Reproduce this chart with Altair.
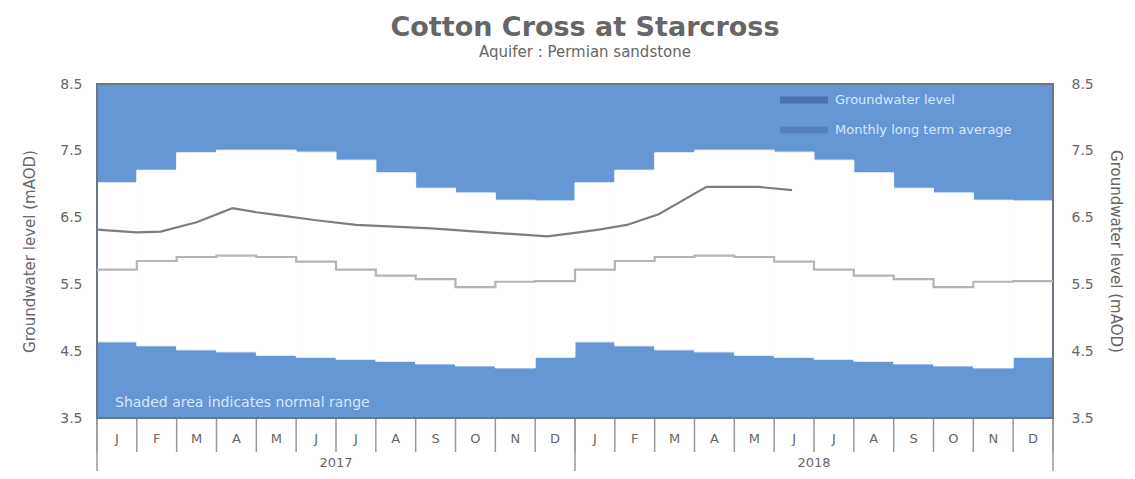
import altair as alt
import pandas as pd

# ---- data ----
months = ["J", "F", "M", "A", "M", "J", "J", "A", "S", "O", "N", "D"]
years = ["2017", "2018"]
# normal range (same each year)
upper = [7.02, 7.21, 7.47, 7.51, 7.51, 7.48, 7.36, 7.17, 6.94, 6.87, 6.76, 6.75]
lower = [4.64, 4.58, 4.52, 4.49, 4.44, 4.41, 4.38, 4.35, 4.31, 4.28, 4.25, 4.41]
# monthly long term average
lta = [5.72, 5.85, 5.91, 5.93, 5.91, 5.84, 5.72, 5.63, 5.58, 5.46, 5.54, 5.55]
# groundwater level (time in months since Jan 2017)
gw_time = [0.0, 1.0, 1.6, 2.5, 3.4, 4.0, 4.5, 5.5, 6.5, 8.4, 9.8, 11.3, 12.0, 12.6, 13.3, 14.1, 15.3, 16.6, 17.45]
gw_level = [6.32, 6.28, 6.29, 6.43, 6.64, 6.58, 6.54, 6.46, 6.39, 6.34, 6.28, 6.22, 6.27, 6.32, 6.39, 6.55, 6.96, 6.96, 6.91]
y_ticks = [3.5, 4.5, 5.5, 6.5, 7.5, 8.5]
legend_labels = ["Groundwater level", "Monthly long term average"]
note_text = "Shaded area indicates normal range"

BLUE = "#6497d4"
FRAME = "#6b7785"
W, H = 956, 334
N = len(months) * len(years)

band = pd.DataFrame({
    "m0": list(range(N)),
    "m1": [i + 1 for i in range(N)],
    "lo": lower * len(years),
    "hi": upper * len(years),
})
lta_df = pd.DataFrame({
    "t": list(range(N)) + [N],
    "v": lta * len(years) + [lta[-1]],
})
gw_df = pd.DataFrame({"t": gw_time, "v": gw_level})
sep_df = pd.DataFrame({"t": list(range(N + 1))})
year_sep_df = pd.DataFrame({"t": [i * len(months) for i in range(len(years) + 1)]})
edge_df = pd.DataFrame({"t": [0, N]})
year_df = pd.DataFrame({"t": [i * len(months) + len(months) / 2 for i in range(len(years))], "y": years})
month_df = pd.DataFrame({"t": [i + 0.5 for i in range(N)], "m": months * len(years)})

xs = alt.Scale(domain=[0, N], nice=False, zero=False)
ys = alt.Scale(domain=[3.5, 8.5], nice=False, zero=False)

ytitle = "Groundwater level (mAOD)"
common_axis = dict(values=y_ticks, format=".1f", ticks=False, domain=False, grid=False,
                   title=ytitle, titleFontSize=15, titleFontWeight="normal", titleColor="#666",
                   labelFontSize=14, labelColor="#666", labelFont="DejaVu Sans", titleFont="DejaVu Sans")
left_axis = alt.Axis(orient="left", titlePadding=22, labelPadding=15, **common_axis)
right_axis = alt.Axis(orient="right", titlePadding=14, labelPadding=18, **common_axis)

band_layer = alt.Chart(band).mark_rect(color="white", stroke="white", strokeWidth=1).encode(
    x=alt.X("m0:Q", scale=xs, axis=None),
    x2="m1:Q",
    y=alt.Y("lo:Q", scale=ys, axis=left_axis),
    y2="hi:Q",
)

edges = alt.Chart(edge_df).mark_rule(color=FRAME, strokeWidth=2).encode(
    x=alt.X("t:Q", scale=xs, axis=None),
    y=alt.value(0), y2=alt.value(H),
)

lta_layer = alt.Chart(lta_df).mark_line(color="#b5b5b5", strokeWidth=2.2, interpolate="step-after").encode(
    x=alt.X("t:Q", scale=xs, axis=None),
    y=alt.Y("v:Q", scale=ys, axis=None),
)

gw_layer = alt.Chart(gw_df).mark_line(color="#7e7e7e", strokeWidth=2.2).encode(
    x=alt.X("t:Q", scale=xs, axis=None),
    y=alt.Y("v:Q", scale=ys, axis=right_axis),
)

seps = alt.Chart(sep_df).mark_rule(color="#999", strokeWidth=1.5, clip=False).encode(
    x=alt.X("t:Q", scale=xs, axis=None),
    y=alt.value(H + 1), y2=alt.value(H + 34),
)
year_seps = alt.Chart(year_sep_df).mark_rule(color="#999", strokeWidth=1.5, clip=False).encode(
    x=alt.X("t:Q", scale=xs, axis=None),
    y=alt.value(H + 1), y2=alt.value(H + 53),
)
month_text = alt.Chart(month_df).mark_text(fontSize=13, color="#666", font="DejaVu Sans",
                                           baseline="middle").encode(
    x=alt.X("t:Q", scale=xs, axis=None),
    y=alt.value(H + 21),
    text="m:N",
)
year_text = alt.Chart(year_df).mark_text(fontSize=13, color="#666", font="DejaVu Sans",
                                         baseline="middle").encode(
    x=alt.X("t:Q", scale=xs, axis=None),
    y=alt.value(H + 45),
    text="y:N",
)

# legend (inside the plot, top right)
leg_items = pd.DataFrame({"label": legend_labels, "row": [0, 1]})
leg_y = alt.Y("row:Q", scale=alt.Scale(domain=[0, 1], range=[16, 46]), axis=None)
leg_sw = alt.Chart(leg_items).mark_rule(strokeWidth=7).encode(
    x=alt.value(683), x2=alt.value(731),
    y=leg_y,
    color=alt.Color("label:N", scale=alt.Scale(domain=legend_labels, range=["#4d73ae", "#5480c0"]),
                    legend=None),
)
leg_tx = alt.Chart(leg_items).mark_text(align="left", baseline="middle", fontSize=13,
                                        font="DejaVu Sans", color="#d6e8fb").encode(
    x=alt.value(738),
    y=leg_y,
    text="label:N",
)
note = alt.Chart(pd.DataFrame({"t": [note_text]})).mark_text(
    align="left", baseline="middle", fontSize=14, font="DejaVu Sans", color="#d6e8fb").encode(
    x=alt.value(18), y=alt.value(319), text="t:N")

chart = alt.layer(band_layer, edges, lta_layer, gw_layer, seps, year_seps, month_text, year_text,
                  leg_sw, leg_tx, note).resolve_scale(
    y="independent", color="independent"
).resolve_axis(y="independent").properties(
    width=W, height=H,
    autosize=alt.AutoSizeParams(type="none"),
    padding={"left": 89, "top": 76, "right": 74, "bottom": 53},
    title=alt.TitleParams(
        text="Cotton Cross at Starcross",
        subtitle="Aquifer : Permian sandstone",
        font="DejaVu Sans", fontSize=27, fontWeight="bold", color="#666",
        subtitleFont="DejaVu Sans", subtitleFontSize=15, subtitleColor="#666",
        subtitlePadding=3, anchor="middle", offset=16, dx=10,
    ),
).configure(background="white").configure_view(
    fill=BLUE, stroke=FRAME, strokeWidth=2
)

chart.save("out.html", embed_options={"renderer": "svg", "actions": False})
